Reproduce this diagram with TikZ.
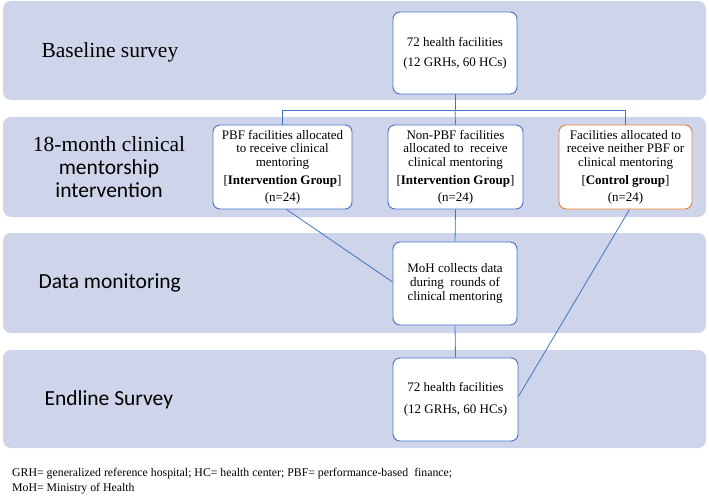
\documentclass[tikz,border=0pt]{standalone}
\usepackage{fontspec}
\setmainfont{Liberation Serif}
\newfontfamily\calibri{Carlito}
\usepackage{tikz}
\usetikzlibrary{positioning}
\definecolor{bandfill}{HTML}{CED5EA}
\definecolor{boxblue}{HTML}{4472C4}
\definecolor{boxorange}{HTML}{ED7D31}

\begin{document}
\begin{tikzpicture}[
  x=1pt, y=-1pt,
  band/.style={fill=bandfill, rounded corners=8pt},
  box/.style={draw=boxblue, line width=0.9pt, fill=white, rounded corners=7pt,
              align=center, inner sep=0pt,
              font=\fontsize{13}{13.8}\selectfont},
  ctrlbox/.style={box, draw=boxorange},
  lab/.style={anchor=west, font=\fontsize{21.5}{24}\selectfont},
  link/.style={draw=boxblue, line width=0.8pt},
]
\useasboundingbox (0,0) rectangle (709,497);

% phase bands
\fill[band] (3,1) rectangle (706,100);
\fill[band] (3,117) rectangle (706,217);
\fill[band] (3,233) rectangle (706,333);
\fill[band] (3,350) rectangle (706,448);

\node[lab] (lbase) at (38,52) {Baseline survey};
\node[align=center, font=\fontsize{21.5}{24}\selectfont] (lmentor) at (109,167)
  {18-month clinical\\[-1pt] {\calibri mentorship}\\[-1pt] {\calibri intervention}};
\node[lab, font=\calibri\fontsize{21.5}{24}\selectfont] (ldata) at (35,283) {Data monitoring};
\node[lab, font=\calibri\fontsize{21.5}{24}\selectfont] (lend) at (41,400) {Endline Survey};

% boxes
\node[box, minimum width=124pt, minimum height=82pt] (base) at (455,53)
  {72 health facilities\\[6pt] (12 GRHs, 60 HCs)};
\node[box, minimum width=139pt, minimum height=84pt] (pbf) at (282.5,167)
  {PBF facilities allocated\\ to receive clinical\\ mentoring\\[4pt]
   [\textbf{Intervention Group}]\\[3pt] (n=24)};
\node[box, minimum width=135pt, minimum height=84pt] (nonpbf) at (455.5,167)
  {Non-PBF facilities\\ allocated to\ \ receive\\ clinical mentoring\\[4pt]
   [\textbf{Intervention Group}]\\[3pt] (n=24)};
\node[ctrlbox, minimum width=133pt, minimum height=84pt] (ctrl) at (625.5,167)
  {Facilities allocated to\\ receive neither PBF or\\ clinical mentoring\\[4pt]
   [\textbf{Control group}]\\[3pt] (n=24)};
\node[box, minimum width=124pt, minimum height=83pt] (moh) at (455,283.5)
  {MoH collects data\\ during\ \ rounds of\\ clinical mentoring};
\node[box, minimum width=125pt, minimum height=83pt] (endl) at (455.5,399.5)
  {72 health facilities\\[8pt] (12 GRHs, 60 HCs)};

% connectors
\coordinate (split) at (455,110);
\draw[link] (base.south) -- (split) -| (pbf.north);
\draw[link] (split) -| (ctrl.north);
\draw[link] (split) -- (nonpbf.north);
\draw[link] ([xshift=4pt]pbf.south) -- ([yshift=1.5pt]moh.west);
\draw[link] (nonpbf.south) -- (moh.north);
\draw[link] (moh.south) -- (endl.north);
\draw[link] ([xshift=4pt]ctrl.south) -- ([yshift=3pt]endl.east);

\node[anchor=north west, align=left, inner sep=0pt,
      font=\fontsize{11.8}{15}\selectfont] (note) at (12,468)
  {GRH= generalized reference hospital; HC= health center; PBF= performance-based\ \ finance;\\
   MoH= Ministry of Health};
\end{tikzpicture}
\end{document}
